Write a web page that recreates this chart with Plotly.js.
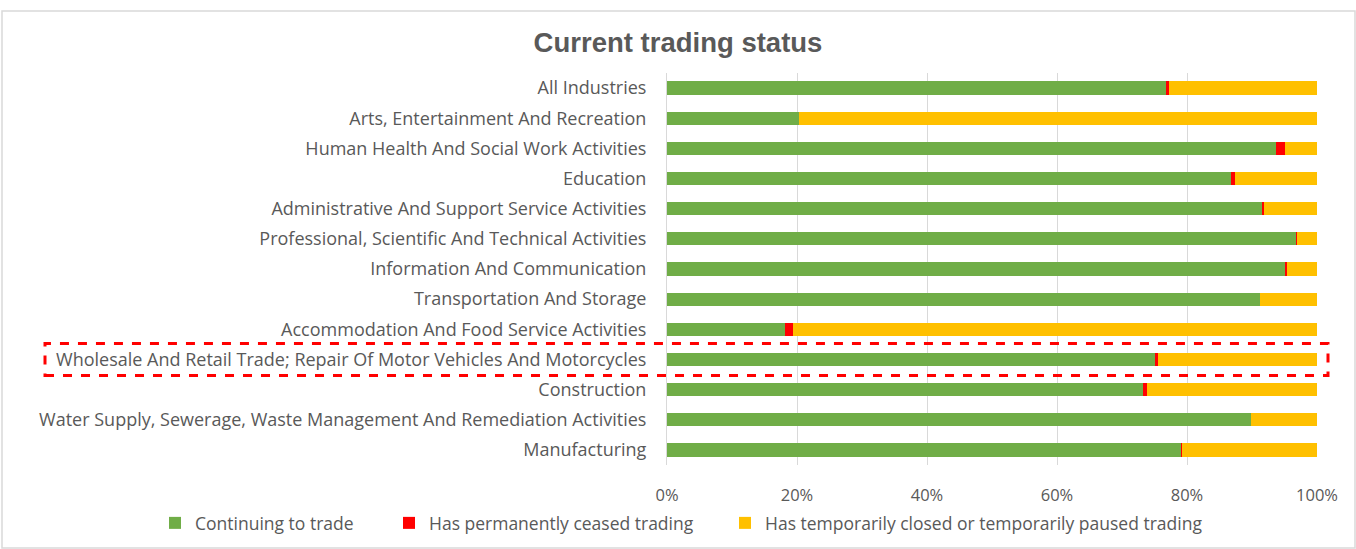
<!DOCTYPE html>
<html>
<head>
<meta charset="utf-8">
<script src="https://cdn.plot.ly/plotly-3.0.1.min.js"></script>
<style>
html,body{margin:0;padding:0;background:#fff;}
#chart{width:1356px;height:549px;}
</style>
</head>
<body>
<div id="chart"></div>
<script>
// Categories listed bottom-to-top
const categories = [
  "Manufacturing",
  "Water Supply, Sewerage, Waste Management And Remediation Activities",
  "Construction",
  "Wholesale And Retail Trade; Repair Of Motor Vehicles And Motorcycles",
  "Accommodation And Food Service Activities",
  "Transportation And Storage",
  "Information And Communication",
  "Professional, Scientific And Technical Activities",
  "Administrative And Support Service Activities",
  "Education",
  "Human Health And Social Work Activities",
  "Arts, Entertainment And Recreation",
  "All Industries"
];
const continuing = [79.0, 89.9, 73.2, 75.1, 18.2, 91.3, 95.0, 96.7, 91.5, 86.8, 93.7, 20.3, 76.7];
const ceased     = [0.3, 0.0, 0.6, 0.5, 1.2, 0.0, 0.4, 0.25, 0.4, 0.6, 1.4, 0.0, 0.5];
const paused     = [20.7, 10.1, 26.2, 24.4, 80.6, 8.7, 4.6, 3.05, 8.1, 12.6, 4.9, 79.7, 22.8];
const seriesNames = [
  "Continuing to trade",
  "Has permanently ceased trading",
  "Has temporarily closed or temporarily paused trading"
];
const highlighted = "Wholesale And Retail Trade; Repair Of Motor Vehicles And Motorcycles";

const colors = ["#70AD47", "#FF0000", "#FFC000"];
const seriesVals = [continuing, ceased, paused];
const legendIds = ["legend2", "legend3", "legend4"];

const traces = seriesVals.map((vals, i) => ({
  type: "bar",
  orientation: "h",
  y: categories,
  x: vals.map(v => v / 100),
  name: seriesNames[i],
  legend: legendIds[i],
  marker: {color: colors[i], line: {width: 0}},
  hoverinfo: "name+x"
}));

const hIdx = categories.indexOf(highlighted);
const FONT = "Open Sans, Liberation Sans, Arial, sans-serif";
const W = 1356, H = 549;
const plotL = 667, plotW = 650, plotT = 73, plotH = 392;
function legendAt(px) {
  return {
    orientation: "h",
    xref: "paper",
    x: (px - plotL) / plotW,
    xanchor: "left",
    yref: "container",
    y: 1 - 523 / H,
    yanchor: "middle",
    font: {family: FONT, size: 17.5, color: "#595959"},
    itemwidth: 30,
    bgcolor: "rgba(0,0,0,0)"
  };
}

const layout = {
  width: W,
  height: H,
  barmode: "stack",
  bargap: 0.56,
  showlegend: true,
  paper_bgcolor: "#ffffff",
  plot_bgcolor: "#ffffff",
  margin: {l: plotL, r: W - plotL - plotW, t: plotT, b: H - plotT - plotH},
  font: {family: FONT, color: "#595959", size: 17},
  title: {
    text: "<b>Current trading status</b>",
    x: 0.5, xref: "container", xanchor: "center",
    y: 1 - 42/H, yref: "container", yanchor: "middle",
    font: {family: "Liberation Sans, Arial, sans-serif", size: 27.5, color: "#595959"}
  },
  xaxis: {
    range: [0, 1],
    tickvals: [0, 0.2, 0.4, 0.6, 0.8, 1.0],
    ticktext: ["0%", "20%", "40%", "60%", "80%", "100%"],
    showgrid: true,
    gridcolor: "#D9D9D9",
    gridwidth: 1,
    zeroline: false,
    showline: false,
    ticks: "",
    automargin: false,
    ticklabelstandoff: 18,
    tickfont: {family: FONT, size: 16.5, color: "#595959"},
    fixedrange: true
  },
  yaxis: {
    type: "category",
    categoryorder: "array",
    categoryarray: categories,
    showgrid: false,
    zeroline: false,
    showline: true,
    linecolor: "#D9D9D9",
    linewidth: 1,
    ticks: "",
    automargin: false,
    ticklabelstandoff: 16,
    tickfont: {family: FONT, size: 18, color: "#595959"},
    fixedrange: true
  },
  legend2: legendAt(155),
  legend3: legendAt(389),
  legend4: legendAt(725),
  shapes: [
    {
      type: "rect",
      xref: "paper", yref: "y",
      x0: (45 - plotL) / plotW, x1: (1328 - plotL) / plotW,
      y0: hIdx - 0.53, y1: hIdx + 0.53,
      line: {color: "#FF0000", width: 3, dash: "dash"},
      fillcolor: "rgba(0,0,0,0)",
      layer: "above"
    },
    {
      type: "rect",
      xref: "paper", yref: "paper",
      x0: (2 - plotL) / plotW, x1: (1355 - plotL) / plotW,
      y0: -(548 - plotT - plotH) / plotH, y1: 1 + (plotT - 11) / plotH,
      line: {color: "#D9D9D9", width: 1.5},
      fillcolor: "rgba(0,0,0,0)",
      layer: "below"
    }
  ]
};

Plotly.newPlot("chart", traces, layout, {displayModeBar: false, staticPlot: true});
</script>
</body>
</html>
